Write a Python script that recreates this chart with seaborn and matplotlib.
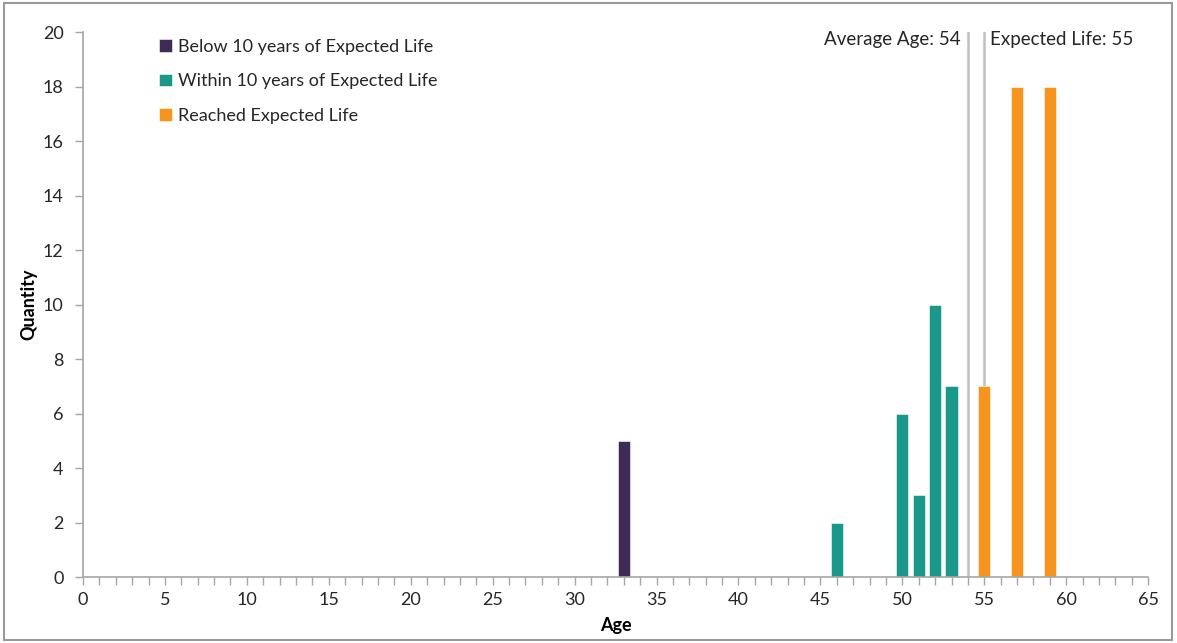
import matplotlib
matplotlib.use("Agg")
import matplotlib.pyplot as plt
import seaborn as sns
import pandas as pd
from matplotlib.ticker import MultipleLocator
from matplotlib.patches import Rectangle

# Asset age distribution
ages = [33, 46, 50, 51, 52, 53, 55, 57, 59]
quantities = [5, 2, 6, 3, 10, 7, 7, 18, 18]
groups = [
    "Below 10 years of Expected Life",
    "Within 10 years of Expected Life",
    "Within 10 years of Expected Life",
    "Within 10 years of Expected Life",
    "Within 10 years of Expected Life",
    "Within 10 years of Expected Life",
    "Reached Expected Life",
    "Reached Expected Life",
    "Reached Expected Life",
]
group_order = [
    "Below 10 years of Expected Life",
    "Within 10 years of Expected Life",
    "Reached Expected Life",
]
group_colors = ["#3f2b56", "#1a998a", "#f7941d"]
average_age = 54
expected_life = 55

sns.set_theme(style="white")
plt.rcParams["font.family"] = ["Lato", "DejaVu Sans"]

df = pd.DataFrame({"Age": ages, "Quantity": quantities, "Group": groups})

fig = plt.figure(figsize=(11.77, 6.43), dpi=100)
ax = fig.add_axes([0.0705, 0.1026, 0.905, 0.8476])

sns.barplot(
    data=df, x="Age", y="Quantity", hue="Group", hue_order=group_order,
    palette=group_colors, saturation=1, native_scale=True, dodge=False, width=0.74,
    edgecolor="white", linewidth=0.4, ax=ax,
)

ax.axvline(average_age, color="#c0c0c0", lw=1.8, zorder=0)
ax.axvline(expected_life, color="#c0c0c0", lw=1.8, zorder=0)
ax.text(average_age - 0.45, 19.72, f"Average Age: {average_age}", ha="right",
        va="center", fontsize=13.5, color="#262626")
ax.text(expected_life + 0.35, 19.72, f"Expected Life: {expected_life}", ha="left",
        va="center", fontsize=13.5, color="#262626")

ax.set_xlim(0, 65)
ax.set_ylim(0, 20)
ax.xaxis.set_major_locator(MultipleLocator(5))
ax.xaxis.set_minor_locator(MultipleLocator(1))
ax.yaxis.set_major_locator(MultipleLocator(2))

for side in ["top", "right"]:
    ax.spines[side].set_visible(False)
for side in ["left", "bottom"]:
    ax.spines[side].set_color("#a6a6a6")
    ax.spines[side].set_linewidth(1.2)

ax.tick_params(axis="x", which="both", direction="out", length=6, width=1,
               color="#a6a6a6", bottom=True, labelsize=13, labelcolor="#262626", pad=5)
ax.tick_params(axis="y", which="major", direction="out", length=6, width=1,
               color="#a6a6a6", left=True, labelsize=13, labelcolor="#262626", pad=8)

ax.set_xlabel("Age", fontsize=13, fontweight="bold", color="black", labelpad=6)
ax.set_ylabel("Quantity", fontsize=13, fontweight="bold", color="black", labelpad=4)

leg = ax.legend(loc="upper left", bbox_to_anchor=(0.056, 1.017), frameon=False,
                fontsize=13, handlelength=0.7, handleheight=0.7,
                handletextpad=0.35, labelspacing=1.02, title=None)
for t in leg.get_texts():
    t.set_color("#262626")

fig.patches.append(Rectangle((0.003, 0.004), 0.993, 0.991, transform=fig.transFigure,
                             fill=False, edgecolor="#999999", lw=1.5))

fig.savefig("out.png", dpi=100, facecolor="white")
